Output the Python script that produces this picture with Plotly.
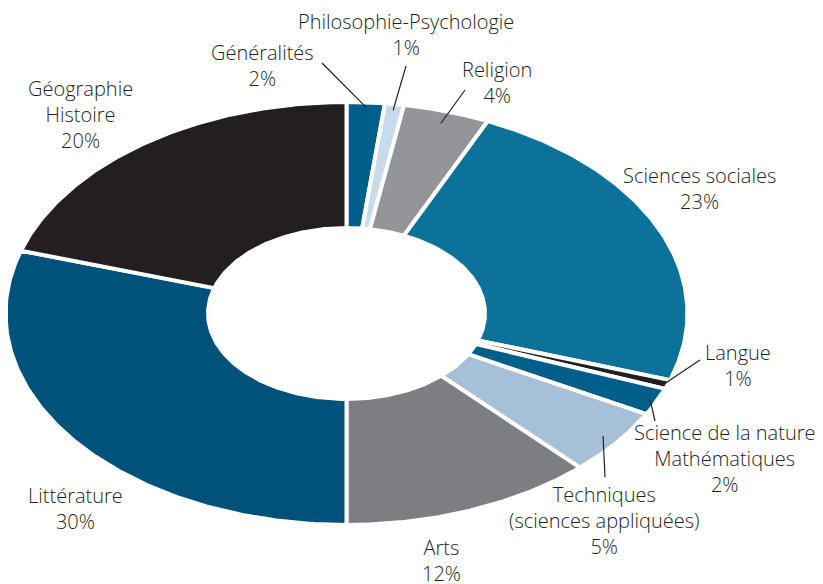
import numpy as np
import plotly.graph_objects as go

categories = ["Généralités", "Philosophie-Psychologie", "Religion", "Sciences sociales",
              "Langue", "Science de la nature Mathématiques", "Techniques (sciences appliquées)",
              "Arts", "Littérature", "Géographie Histoire"]
values = [1.8, 0.9, 4.1, 23.3, 0.7, 2.1, 5.1, 12.0, 29.8, 20.2]
label_texts = ["Généralités<br>2%", "Philosophie-Psychologie<br>1%", "Religion<br>4%",
               "Sciences sociales<br>23%", "Langue<br>1%",
               "Science de la nature<br>Mathématiques<br>2%",
               "Techniques<br>(sciences appliquées)<br>5%", "Arts<br>12%",
               "Littérature<br>30%", "Géographie<br>Histoire<br>20%"]
colors = ["#005e8a", "#c8dbea", "#939598", "#0c7299", "#231f20",
          "#005e8a", "#a5c0d7", "#7d7e82", "#00527b", "#231f20"]

# geometry (page pixels)
CX, CY = 346.5, 313.5
AO, BO = 341.0, 211.5
AI, BI = 138.5, 85.5

# label layout: (x, y) centre, leader start, leader end radius factor
label_pos = [(262.5, 65), (405.5, 34.5), (497, 82), (699, 188), (738, 365),
             (724, 458.5), (604, 520.5), (441, 560), (75.8, 508), (80.8, 114.5)]
leader_start = [(322, 63), (406, 66), (465, 90), None, (700, 360),
                (655, 421), (605, 477), None, None, None]
leader_r = [0.98, 0.97, 0.94, None, 0.99, 0.98, 0.95, None, None, None]

total = sum(values)
cum = np.concatenate([[0], np.cumsum(values)]) / total

fig = go.Figure()
for i, cat in enumerate(categories):
    t = np.linspace(cum[i], cum[i + 1], 200) * 2 * np.pi
    xo = CX + AO * np.sin(t)
    yo = CY - BO * np.cos(t)
    xi = CX + AI * np.sin(t[::-1])
    yi = CY - BI * np.cos(t[::-1])
    xs = np.concatenate([xo, xi, xo[:1]])
    ys = np.concatenate([yo, yi, yo[:1]])
    fig.add_trace(go.Scatter(x=xs, y=ys, mode="lines", fill="toself",
                             fillcolor=colors[i], line=dict(color="white", width=4),
                             name=cat, hoverinfo="name", showlegend=False))

font = dict(family="Open Sans", size=20, color="#231f20", weight=300)
for i in range(len(categories)):
    lx, ly = label_pos[i]
    fig.add_annotation(x=lx, y=ly, text=label_texts[i], showarrow=False,
                       xanchor="center", yanchor="middle", font=font, align="center")
    if leader_start[i] is not None:
        tm = (cum[i] + cum[i + 1]) / 2 * 2 * np.pi
        r = leader_r[i]
        ex = CX + AO * r * np.sin(tm)
        ey = CY - BO * r * np.cos(tm)
        sx, sy = leader_start[i]
        fig.add_shape(type="line", x0=sx, y0=sy, x1=ex, y1=ey,
                      line=dict(color="#231f20", width=1.2))

# page body has an 8px margin: the figure occupies page pixels 8..823 / 8..584
fig.update_layout(
    width=815, height=576, margin=dict(l=0, r=0, t=0, b=0),
    paper_bgcolor="white", plot_bgcolor="white",
    xaxis=dict(range=[8, 823], visible=False, fixedrange=True),
    yaxis=dict(range=[584, 8], visible=False, fixedrange=True),
)
fig.write_html("out.html")
